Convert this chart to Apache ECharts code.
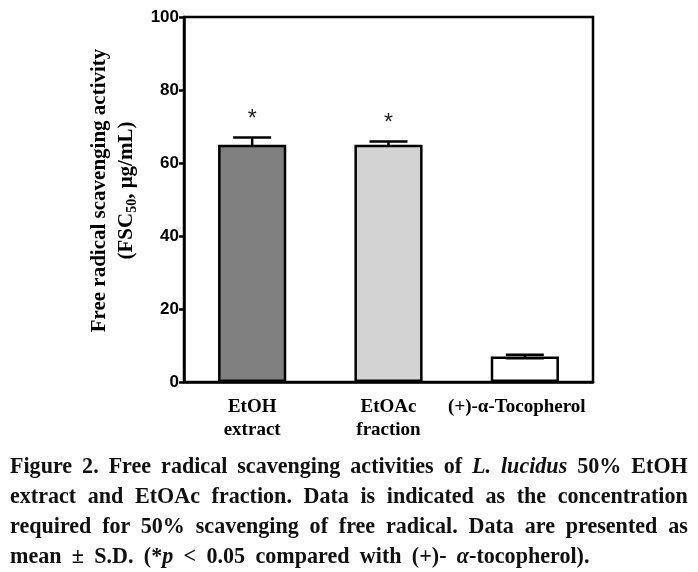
<!DOCTYPE html>
<html>
<head>
<meta charset="utf-8">
<script src="https://cdn.jsdelivr.net/npm/echarts@6/dist/echarts.min.js"></script>
<style>
html,body{margin:0;padding:0;background:#fff;}
#wrap{position:relative;width:698px;height:572px;overflow:hidden;}
#chart{position:absolute;left:0;top:0;width:698px;height:572px;}
#caption{position:absolute;left:10px;top:451px;width:706px;transform:scaleX(0.96);transform-origin:0 0;font-family:"Liberation Serif","Times New Roman",serif;font-weight:bold;font-size:23px;color:#111;}
#caption div{white-space:nowrap;height:30px;line-height:30px;}
#caption .j{text-align:justify;text-align-last:justify;}
#caption .last{word-spacing:5px;}
</style>
</head>
<body>
<div id="wrap">
<div id="chart"></div>
<div id="caption">
<div class="j">Figure 2. Free radical scavenging activities of <i>L. lucidus</i> 50% EtOH</div>
<div class="j">extract and EtOAc fraction. Data is indicated as the concentration</div>
<div class="j">required for 50% scavenging of free radical. Data are presented as</div>
<div class="last">mean ± S.D. (*<i>p</i> &lt; 0.05 compared with (+)- <i>α</i>-tocopherol).</div>
</div>
</div>
<script>
const categories = ['EtOH\nextract', 'EtOAc\nfraction', '(+)-α-Tocopherol'];
const means = [65, 65, 7];
const sds = [2.0, 0.9, 0.5];
const marks = ['*', '*', ''];
const barColors = ['#808080', '#d3d3d3', 'rgba(255,255,255,0)'];
const yMin = 0, yMax = 100, yInterval = 20;

const serif = '"Liberation Serif","Times New Roman",serif';
const chart = echarts.init(document.getElementById('chart'));
const option = {
  animation: false,
  grid: { left: 184, right: 105, top: 17, bottom: 190, show: true, borderColor: '#000', borderWidth: 2.5 },
  xAxis: {
    type: 'category',
    data: categories.map((c, i) => (i === 2 ? { value: c, textStyle: { padding: [0, 16, 0, 0] } } : c)),
    axisLine: { lineStyle: { color: '#000', width: 2.5 } },
    axisTick: { show: false },
    axisLabel: { color: '#000', fontFamily: serif, fontWeight: 'bold', fontSize: 19, lineHeight: 23, margin: 14, interval: 0 }
  },
  yAxis: {
    type: 'value', min: yMin, max: yMax, interval: yInterval,
    splitLine: { show: false },
    axisLine: { show: true, lineStyle: { color: '#000', width: 2.5 } },
    axisTick: { show: true, length: 5, lineStyle: { color: '#000', width: 2.5 } },
    axisLabel: { color: '#000', fontFamily: '"Liberation Sans",Arial,sans-serif', fontWeight: 'bold', fontSize: 17, margin: 5 },
    name: '{t|Free radical scavenging activity}\n{t|(FSC}{s|50}{t|, μg/mL)}',
    nameLocation: 'middle',
    nameRotate: 90,
    nameGap: 44,
    nameTextStyle: {
      padding: [0, 0, 0, 18],
      rich: {
        t: { fontFamily: serif, fontWeight: 'bold', fontSize: 21, color: '#000', lineHeight: 27 },
        s: { fontFamily: serif, fontWeight: 'bold', fontSize: 14, color: '#000', lineHeight: 27, verticalAlign: 'bottom', padding: [9, 0, 0, 0] }
      }
    }
  },
  series: [
    {
      type: 'custom',
      z: 1,
      data: means.map((m, i) => [i, m, sds[i]]),
      renderItem: function (params, api) {
        const i = api.value(0), m = api.value(1), sd = api.value(2);
        const top = api.coord([i, m + sd]);
        const bot = api.coord([i, m - sd]);
        const half = 19;
        const st = { stroke: '#000', lineWidth: 2.5 };
        const children = [
          { type: 'line', shape: { x1: bot[0], y1: bot[1], x2: top[0], y2: top[1] }, style: st },
          { type: 'line', shape: { x1: top[0] - half, y1: top[1], x2: top[0] + half, y2: top[1] }, style: st },
          { type: 'line', shape: { x1: bot[0] - half, y1: bot[1], x2: bot[0] + half, y2: bot[1] }, style: st }
        ];
        if (marks[i]) {
          children.push({ type: 'text', style: { text: marks[i], x: top[0], y: top[1] - 6, align: 'center', verticalAlign: 'bottom', fontSize: 23, fontFamily: '"Liberation Sans",Arial,sans-serif', fill: '#222' } });
        }
        return { type: 'group', children: children };
      }
    },
    {
      type: 'bar',
      barWidth: '50%',
      z: 2,
      data: means.map((v, i) => ({ value: v, itemStyle: { color: barColors[i], borderColor: '#000', borderWidth: 2.5 } }))
    }
  ]
};
chart.setOption(option);
</script>
</body>
</html>
